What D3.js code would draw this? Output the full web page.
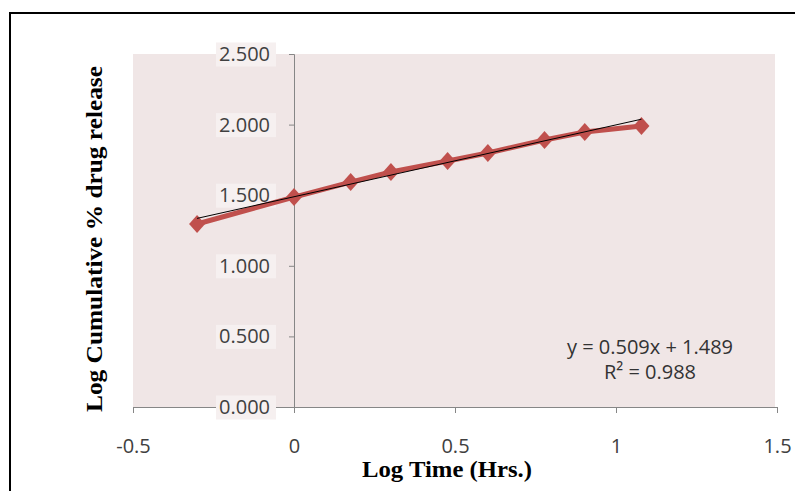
<!DOCTYPE html>
<html>
<head>
<meta charset="utf-8">
<script src="https://cdn.jsdelivr.net/npm/d3@7"></script>
<style>
  body { margin: 0; background: #fff; }
  svg { display: block; }
</style>
</head>
<body>
<svg width="795" height="491"></svg>
<script>
// log time (hrs) vs log cumulative % drug release
const logTime = [-0.301, 0, 0.176, 0.301, 0.477, 0.602, 0.778, 0.903, 1.079];
const logRelease = [1.296, 1.487, 1.593, 1.664, 1.742, 1.799, 1.891, 1.948, 1.990];
const xTicks = [-0.5, 0, 0.5, 1, 1.5];
const yTicks = [0, 0.5, 1, 1.5, 2, 2.5];
const trendSlope = 0.509;
const trendIntercept = 1.489;
const eqLines = ["y = 0.509x + 1.489", "R² = 0.988"];

const svg = d3.select("svg");
const red = "#c0504d";

// outer frame
svg.append("rect")
  .attr("x", 10).attr("y", 13)
  .attr("width", 800).attr("height", 500)
  .attr("fill", "none").attr("stroke", "#000").attr("stroke-width", 2);

const x = d3.scaleLinear().domain([-0.5, 1.5]).range([133, 777]);
const y = d3.scaleLinear().domain([0, 2.5]).range([407, 54]);

// plot area
svg.append("rect")
  .attr("x", x(-0.5)).attr("y", y(2.5))
  .attr("width", x(1.5) - x(-0.5) - 2).attr("height", y(0) - y(2.5))
  .attr("fill", "#f0e6e6");

const font = "'Open Sans', 'Liberation Sans', sans-serif";

// x axis
const xAxis = svg.append("g")
  .attr("transform", `translate(0,${y(0)})`)
  .call(d3.axisBottom(x).tickValues(xTicks).tickFormat(d => String(d)).tickSize(6).tickPadding(26));
xAxis.select(".domain").attr("stroke", "#868686");
xAxis.selectAll(".tick line").attr("stroke", "#868686");
xAxis.selectAll("text")
  .attr("font-family", font).attr("font-size", 20).attr("fill", "#404040");

// y axis sits at x = 0
const yAxis = svg.append("g")
  .attr("transform", `translate(${x(0)},0)`)
  .call(d3.axisLeft(y).tickValues(yTicks).tickFormat(d3.format(".3f")).tickSize(5).tickPadding(19));
yAxis.select(".domain").attr("stroke", "#868686");
yAxis.selectAll(".tick line").attr("stroke", "#868686");
yAxis.selectAll(".tick").insert("rect", "text")
  .attr("x", -78).attr("y", -12).attr("width", 60).attr("height", 24)
  .attr("fill", "#f6f0f0");
yAxis.selectAll("text")
  .attr("font-family", font).attr("font-size", 20).attr("fill", "#404040");

// data line
const pts = logTime.map((t, i) => [t, logRelease[i]]);
svg.append("path")
  .datum(pts)
  .attr("fill", "none")
  .attr("stroke", red)
  .attr("stroke-width", 5)
  .attr("stroke-linejoin", "round")
  .attr("d", d3.line().x(d => x(d[0])).y(d => y(d[1])));

// markers
svg.selectAll(".pt")
  .data(pts)
  .enter()
  .append("path")
  .attr("class", "pt")
  .attr("transform", d => `translate(${x(d[0])},${y(d[1])})`)
  .attr("d", "M0,-9L8,0L0,9L-8,0Z")
  .attr("fill", red);

// linear trendline
const x0 = d3.min(logTime), x1 = d3.max(logTime);
svg.append("line")
  .attr("x1", x(x0)).attr("y1", y(trendSlope * x0 + trendIntercept))
  .attr("x2", x(x1)).attr("y2", y(trendSlope * x1 + trendIntercept))
  .attr("stroke", "#000").attr("stroke-width", 1);

// equation
svg.selectAll(".eq")
  .data(eqLines)
  .enter()
  .append("text")
  .attr("class", "eq")
  .attr("x", 650)
  .attr("y", (d, i) => 354 + i * 25)
  .attr("text-anchor", "middle")
  .attr("font-family", font)
  .attr("font-size", 20)
  .attr("fill", "#333")
  .text(d => d);

// axis titles
const serif = "'Liberation Serif', 'Times New Roman', serif";
svg.append("text")
  .attr("x", 447).attr("y", 477)
  .attr("text-anchor", "middle")
  .attr("font-family", serif)
  .attr("font-weight", "bold")
  .attr("font-size", 23)
  .attr("textLength", 170)
  .attr("lengthAdjust", "spacingAndGlyphs")
  .text("Log Time (Hrs.)");

svg.append("text")
  .attr("transform", "translate(102,239) rotate(-90)")
  .attr("text-anchor", "middle")
  .attr("font-family", serif)
  .attr("font-weight", "bold")
  .attr("font-size", 23)
  .attr("textLength", 346)
  .attr("lengthAdjust", "spacingAndGlyphs")
  .text("Log Cumulative % drug release");
</script>
</body>
</html>
